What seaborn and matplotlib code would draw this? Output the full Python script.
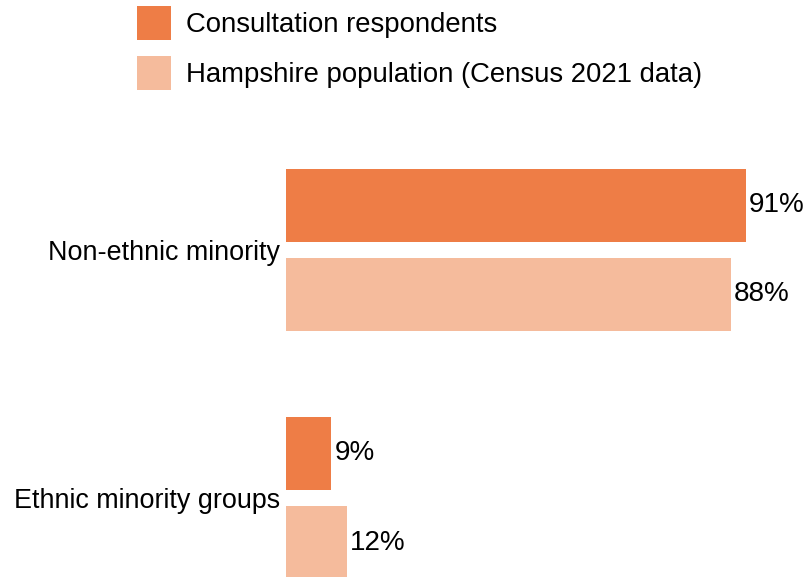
import matplotlib
matplotlib.use("Agg")
import matplotlib.pyplot as plt
import seaborn as sns
import pandas as pd

categories = ["Non-ethnic minority", "Ethnic minority groups"]
series_names = ["Consultation respondents", "Hampshire population (Census 2021 data)"]
respondents = [91, 9]
population = [88, 12]
colors = ["#EE7D46", "#F5BB9C"]

df = pd.DataFrame({
    "group": categories * 2,
    "series": [series_names[0]] * 2 + [series_names[1]] * 2,
    "value": respondents + population,
})

sns.set_theme(style="white")
plt.rcParams["font.family"] = ["Liberation Sans", "DejaVu Sans"]
FS_TICK = 19.4
FS_LEG = 19.8
FS_VAL = 20.0

fig = plt.figure(figsize=(8.07, 5.77), dpi=100)
W, H = 807, 577
ax = fig.add_axes([286 / W, 0, 505.5 / W, (577 - 120) / H])

sns.barplot(data=df, y="group", x="value", hue="series", orient="h",
            palette=colors, width=0.718, gap=0.181, saturation=1,
            order=categories, hue_order=series_names, ax=ax, linewidth=0)

ax.set_xlim(0, 100)
ax.set_ylim(1.3185, -0.524)
ax.set_xlabel("")
ax.set_ylabel("")
ax.set_xticks([])
ax.tick_params(axis="y", length=0, pad=4, labelsize=FS_TICK, labelcolor="#000000")
for s in ax.spines.values():
    s.set_visible(False)

for cont in ax.containers:
    ax.bar_label(cont, fmt="%g%%", padding=2, fontsize=FS_VAL, color="#000000")

handles, labels = ax.get_legend_handles_labels()
ax.get_legend().remove()
fig.legend(handles, labels, loc="upper left", bbox_to_anchor=(129 / W, 1 + 2 / H),
           frameon=False, fontsize=FS_LEG, handlelength=1.24, handleheight=1.53,
           handletextpad=0.54, labelspacing=0.56, borderaxespad=0, borderpad=0.3,
           labelcolor="#000000")

fig.savefig("out.png", dpi=100)
